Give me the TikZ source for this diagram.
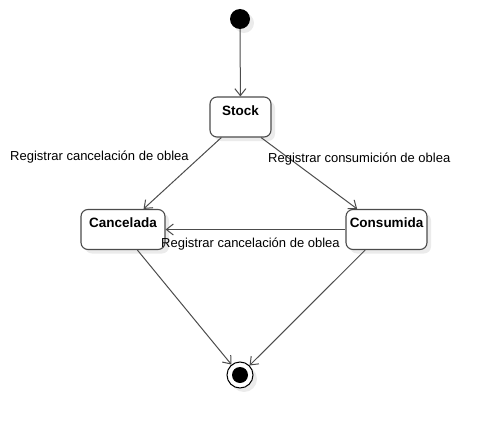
\documentclass[tikz,border=0pt]{standalone}
\usepackage{fontspec}
\setmainfont{Liberation Sans}
\usepackage{tikz}
\usetikzlibrary{arrows.meta,shadows}
\tikzstyle{sombra}=[drop shadow={shadow xshift=4pt,shadow yshift=-4pt,fill=black!8,opacity=1}]
\tikzstyle{estado}=[rectangle,rounded corners=7pt,draw=black!70,line width=1.1pt,fill=white,sombra,minimum height=40pt,text height=10pt,text depth=14pt,font=\fontsize{13.5}{15}\selectfont\bfseries]
\tikzstyle{estadoinicial}=[circle,fill=black,minimum size=20pt,inner sep=0pt,sombra]
\tikzstyle{estadofinal}=[circle,draw=black,line width=1pt,fill=white,minimum size=26pt,inner sep=0pt,sombra]
\tikzstyle{transicion}=[draw=black!70,line width=1pt,-{Straight Barb[length=7pt,width=11pt]}]
\tikzstyle{etiqueta}=[anchor=west,inner sep=0pt,font=\fontsize{13}{15}\selectfont]

\begin{document}
\begin{tikzpicture}[x=1pt,y=-1pt]
        \useasboundingbox (0,0) rectangle (490,428);
        \node at (240,19)    [estadoinicial]                  (ini) {};
        \node at (240.5,117) [estado,minimum width=61pt]      (stock) {Stock};
        \node at (123,229.5) [estado,minimum width=84pt]      (cancelada) {Cancelada};
        \node at (386.5,229.5) [estado,minimum width=81pt]    (consumida) {Consumida};
        \node at (240,375)   [estadofinal]                    (fin) {};
        \fill[black] (fin) circle (8pt);

        \draw [transicion] (ini) -- (stock);
        \draw [transicion] (stock.-133) -- (cancelada.45);
        \draw [transicion] (stock.-45) -- (consumida.145);
        \draw [transicion] (consumida.west) -- (cancelada.east);
        \draw [transicion] (cancelada.-55) -- (fin);
        \draw [transicion] (consumida.-136) -- (fin);

        \node at (10,157)  [etiqueta] (e1) {Registrar cancelación de oblea};
        \node at (268,159) [etiqueta] (e2) {Registrar consumición de oblea};
        \node at (161,244) [etiqueta] (e3) {Registrar cancelación de oblea};
      \end{tikzpicture}
\end{document}
